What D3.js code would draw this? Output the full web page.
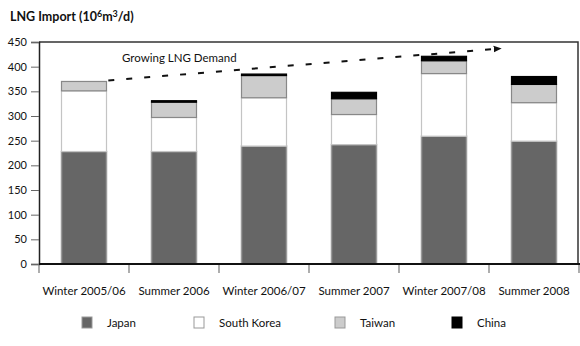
<!DOCTYPE html>
<html>
<head>
<meta charset="utf-8">
<script src="https://cdn.jsdelivr.net/npm/d3@7"></script>
<style>
  body { margin: 0; background: #fff; }
  text { font-family: "Century Gothic", Lato, "DejaVu Sans", sans-serif; fill: #111; }
</style>
</head>
<body>
<div id="chart"></div>
<script>
// data
const periods = ['Winter 2005/06', 'Summer 2006', 'Winter 2006/07', 'Summer 2007', 'Winter 2007/08', 'Summer 2008'];
const countries = ['Japan', 'South Korea', 'Taiwan', 'China'];
const japan = [228, 228, 239, 242, 259, 249];
const southKorea = [123, 69, 98, 61, 127, 78];
const taiwan = [19, 31, 45, 32, 26, 37];
const china = [0, 3, 3, 13, 9, 16];
const yTicks = [0, 50, 100, 150, 200, 250, 300, 350, 400, 450];
// trend arrow: position in band units, value
const trendPos = [0.77, 5.07];
const trendVal = [372, 436];

const width = 580, height = 346;
const mLeft = 39, mRight = 578, mTop = 42, mBottom = 264;

const svg = d3.select('#chart').append('svg')
  .attr('width', width).attr('height', height);

const x = d3.scaleBand().domain(periods).range([mLeft, mRight + 1]).paddingInner(0.5).paddingOuter(0.25);
const xBand = d3.scaleLinear().domain([0, periods.length]).range([mLeft, mRight + 1]);
const y = d3.scaleLinear().domain([0, 450]).range([mBottom, mTop]);

const rows = periods.map((p, i) => ({ period: p, Japan: japan[i], 'South Korea': southKorea[i], Taiwan: taiwan[i], China: china[i] }));
const stacked = d3.stack().keys(countries)(rows);

const fills = { 'Japan': '#666666', 'South Korea': '#ffffff', 'Taiwan': '#cccccc', 'China': '#000000' };
const strokes = { 'Japan': '#9a9a9a', 'South Korea': '#c4c4c4', 'Taiwan': '#888888', 'China': '#000000' };

// title
svg.append('text')
  .attr('x', 10).attr('y', 21)
  .style('font-size', '12.5px').style('font-weight', 'bold')
  .html('LNG Import (10<tspan dy="-4" style="font-size:9px">6</tspan><tspan dy="4">m</tspan><tspan dy="-4" style="font-size:9px">3</tspan><tspan dy="4">/d)</tspan>');

// bars
svg.append('g').selectAll('g')
  .data(stacked).enter().append('g')
  .attr('fill', d => fills[d.key])
  .attr('stroke', d => strokes[d.key])
  .attr('stroke-width', d => d.key === 'Japan' ? 1.5 : 1.2)
  .selectAll('rect')
  .data(d => d.filter(s => s[1] - s[0] > 0)).enter().append('rect')
  .attr('x', d => x(d.data.period))
  .attr('width', x.bandwidth())
  .attr('y', d => y(d[1]))
  .attr('height', d => y(d[0]) - y(d[1]));

// frame top and right
svg.append('path')
  .attr('d', `M${mLeft},${mTop}H${mRight}V${mBottom}`)
  .attr('fill', 'none').attr('stroke', '#333').attr('stroke-width', 1.5);

// y axis
const yAxis = svg.append('g')
  .attr('transform', `translate(${mLeft},0)`)
  .call(d3.axisLeft(y).tickValues(yTicks).tickSize(8).tickPadding(4));
yAxis.select('.domain').attr('stroke', '#222').attr('stroke-width', 1.5);
yAxis.selectAll('.tick line').attr('stroke', '#666');
yAxis.selectAll('.tick text').style('font-size', '11px').attr('fill', '#111')
  .style('font-family', '"Century Gothic", Lato, "DejaVu Sans", sans-serif');

// x axis with ticks at band boundaries
const bounds = d3.range(periods.length + 1);
svg.append('g').selectAll('line')
  .data(bounds).enter().append('line')
  .attr('x1', d => xBand(d)).attr('x2', d => xBand(d))
  .attr('y1', mBottom).attr('y2', mBottom + 9)
  .attr('stroke', '#777').attr('stroke-width', 1.2);
svg.append('line')
  .attr('x1', mLeft).attr('x2', width).attr('y1', mBottom).attr('y2', mBottom)
  .attr('stroke', '#111').attr('stroke-width', 2);
svg.append('g').selectAll('text')
  .data(periods).enter().append('text')
  .attr('x', d => x(d) + x.bandwidth() / 2)
  .attr('y', 295)
  .attr('text-anchor', 'middle')
  .style('font-size', '11.5px')
  .text(d => d);

// trend arrow
svg.append('defs').append('marker')
  .attr('id', 'arrow').attr('viewBox', '0 0 10 10')
  .attr('refX', 2).attr('refY', 5)
  .attr('markerWidth', 4).attr('markerHeight', 4)
  .attr('orient', 'auto')
  .append('path').attr('d', 'M0,1L10,5L0,9Z').attr('fill', '#111');
svg.append('line')
  .attr('x1', xBand(trendPos[0])).attr('y1', y(trendVal[0]))
  .attr('x2', xBand(trendPos[1])).attr('y2', y(trendVal[1]))
  .attr('stroke', '#111').attr('stroke-width', 2)
  .attr('stroke-dasharray', '6 12')
  .attr('marker-end', 'url(#arrow)');
svg.append('text')
  .attr('x', 122).attr('y', 62)
  .style('font-size', '11.5px')
  .text('Growing LNG Demand');

// legend
const legendX = [82, 194, 335, 452];
const legend = svg.append('g').selectAll('g')
  .data(countries).enter().append('g')
  .attr('transform', (d, i) => `translate(${legendX[i]},317)`);
legend.append('rect')
  .attr('width', 10).attr('height', 11)
  .attr('fill', d => fills[d])
  .attr('stroke', d => d === 'China' ? '#000' : '#999');
legend.append('text')
  .attr('x', 25).attr('y', 10)
  .style('font-size', '11.5px')
  .text(d => d);
</script>
</body>
</html>
